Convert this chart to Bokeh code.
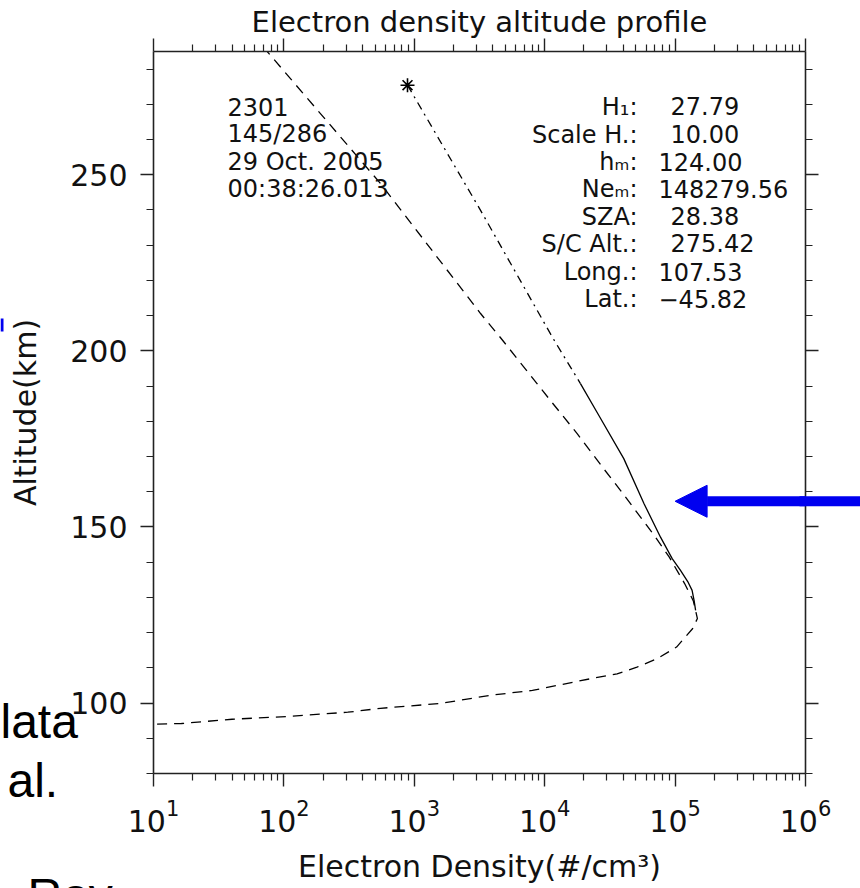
from bokeh.plotting import figure
from bokeh.layouts import column
from bokeh.models import (LogAxis, LinearAxis, FixedTicker, Label, Arrow, NormalHead,
                          Range1d, CustomJSTickFormatter)
from bokeh.embed import file_html
from bokeh.resources import INLINE

# ---------------- data ----------------
# axis ticks
x_major_ticks = [1e1, 1e2, 1e3, 1e4, 1e5, 1e6]
x_minor_ticks = [m * 10 ** d for d in range(1, 6) for m in range(2, 10)]
y_major_ticks = [100, 150, 200, 250]
y_minor_ticks = list(range(80, 290, 10))

# model (Chapman) profile, dashed
model_ne = [57, 119, 551, 3222, 4570, 8730, 11070, 17740, 28380, 38100, 54300,
            70800, 90000, 118000, 138000, 148280, 136000, 102600, 72800, 51000,
            35900, 22400, 8050, 3840, 1585, 550, 309, 107, 40, 16.4, 10]
model_alt = [290, 276.2, 247.5, 210.6, 203.8, 190.7, 185.9, 176.5, 166.5, 160.4, 152.8,
             147.1, 141.5, 134.0, 129.0, 124.0, 121.1, 115.9, 112.6, 110.2,
             108.3, 106.9, 103.6, 102.2, 99.9, 98.5, 97.4, 96.2, 95.4, 94.2, 94.0]

# measured profile, upper part (dash-dot)
meas_upper_ne = [887, 3222, 11480, 18800]
meas_upper_alt = [275.42, 239.9, 203.8, 190.7]
# measured profile, lower part (solid)
meas_lower_ne = [18800, 25700, 40400, 57800, 77300, 95000, 110000, 125000, 135000, 140000, 143600]
meas_lower_alt = [190.7, 182.0, 169.4, 156.6, 147.1, 141.0, 137.7, 134.5, 132.0, 129.0, 126.3]

# spacecraft position (star)
sc_ne = [887]
sc_alt = [275.42]

# arrow target
arrow_ne_tip = 1.0e5
arrow_ne_tail = 2.6e6
arrow_alt = 157.3

info_left = ["2301", "145/286", "29 Oct. 2005", "00:38:26.013"]
param_names = ["H\u2081:", "Scale H.:", "h\u2098:", "Ne\u2098:", "SZA:", "S/C Alt.:", "Long.:", "Lat.:"]
param_values = ["\u200227.79", "\u200210.00", "124.00", "148279.56", "\u200228.38",
                "\u2002275.42", "107.53", "\u221245.82"]

# fragments of the slide behind the chart
slide_texts = ["lata", "al.", "Roy"]

FONT = "DejaVu Sans"
BLUE = "#0000f0"

# ---------------- layout (canvas pixels) ----------------
W, H = 860, 888
FL, FR, FT, FB = 153, 805, 51, 773   # frame edges
X0, X1, Y0, Y1 = 10, 1e6, 80, 285


def sx(cx):
    return cx - FL


def sy(cy):
    return FB - cy


def alt_to_px(a):
    return FB - (a - Y0) / (Y1 - Y0) * (FB - FT)


p = figure(width=W, height=H, x_axis_type="log",
           x_range=Range1d(X0, X1), y_range=Range1d(Y0, Y1),
           output_backend="svg", toolbar_location=None,
           min_border_left=FL, min_border_right=W - FR,
           min_border_top=FT, min_border_bottom=H - FB)
p.frame_align = False
p.grid.visible = False
p.outline_line_color = None
p.background_fill_color = "white"
p.border_fill_color = "white"

p.title.text = "Electron density altitude profile"
p.title.align = "center"
p.title.text_font = FONT
p.title.text_font_size = "29px"
p.title.text_font_style = "normal"
p.title.text_color = "#111111"
p.title.standoff = 0
p.title.offset = 0

blank = CustomJSTickFormatter(code="return ''")


def style_axis(ax):
    ax.axis_line_width = 1.6
    ax.axis_line_color = "#222222"
    ax.major_tick_line_color = "#222222"
    ax.minor_tick_line_color = "#222222"
    ax.major_tick_line_width = 1.4
    ax.minor_tick_line_width = 1.2
    ax.major_tick_in = 0
    ax.major_tick_out = 13
    ax.minor_tick_in = 0
    ax.minor_tick_out = 7
    ax.major_label_text_font = FONT
    ax.major_label_text_font_size = "30px"
    ax.major_label_text_color = "#111111"
    ax.axis_label_text_font = FONT
    ax.axis_label_text_font_size = "30px"
    ax.axis_label_text_font_style = "normal"
    ax.axis_label_text_color = "#111111"


xt = FixedTicker(ticks=x_major_ticks, minor_ticks=x_minor_ticks)
yt = FixedTicker(ticks=y_major_ticks, minor_ticks=y_minor_ticks)

bx = p.xaxis[0]
bx.ticker = xt
bx.axis_label = "Electron Density(#/cm\u00b3)"
style_axis(bx)
bx.major_label_standoff = 12
bx.axis_label_standoff = 14

ly = p.yaxis[0]
ly.ticker = yt
ly.axis_label = "Altitude(km)"
style_axis(ly)
ly.major_label_standoff = 13
ly.axis_label_standoff = 24

tx = LogAxis(ticker=xt, formatter=blank)
style_axis(tx)
tx.major_label_standoff = 0
p.add_layout(tx, "above")
ry = LinearAxis(ticker=yt, formatter=blank)
style_axis(ry)
ry.major_label_standoff = 0
p.add_layout(ry, "right")

# ---------------- curves ----------------
p.line(model_ne, model_alt, line_color="black", line_width=1.3, line_dash="10 7")
p.line(meas_upper_ne, meas_upper_alt, line_color="black", line_width=1.3, line_dash="8 5 2 5")
p.line(meas_lower_ne, meas_lower_alt, line_color="black", line_width=1.3)
p.scatter(sc_ne, sc_alt, marker="asterisk", size=14, line_color="black", line_width=1.6)

# ---------------- texts inside the frame ----------------
for i, t in enumerate(info_left):
    p.add_layout(Label(x=sx(227), y=sy(106.5 + 27.4 * i), x_units="screen", y_units="screen",
                       text=t, text_font=FONT, text_font_size="24px", text_color="#111111",
                       text_baseline="middle", text_align="left"))
for i, (n, v) in enumerate(zip(param_names, param_values)):
    cy = sy(106.7 + 27.4 * i)
    p.add_layout(Label(x=sx(637), y=cy, x_units="screen", y_units="screen",
                       text=n, text_font=FONT, text_font_size="24px", text_color="#111111",
                       text_baseline="middle", text_align="right"))
    p.add_layout(Label(x=sx(658), y=cy, x_units="screen", y_units="screen",
                       text=v, text_font=FONT, text_font_size="24px", text_color="#111111",
                       text_baseline="middle", text_align="left"))

# ---------------- blue arrow ----------------
p.add_layout(Arrow(end=NormalHead(size=32, fill_color=BLUE, line_color=BLUE, line_width=1),
                   x_start=arrow_ne_tail, y_start=arrow_alt, x_end=arrow_ne_tip, y_end=arrow_alt,
                   line_color=BLUE, line_width=10))

# ---------------- overlay: whole-canvas layer for things outside the frame ----------------
q = figure(width=W, height=H, x_range=Range1d(0, W), y_range=Range1d(H, 0),
           output_backend="svg", toolbar_location=None, title=None,
           x_axis_location=None, y_axis_location=None, min_border=0)
q.frame_align = False
q.grid.visible = False
q.outline_line_color = None
q.background_fill_color = None
q.border_fill_color = None
q.styles = {"position": "absolute", "left": "0px", "top": "0px", "pointer-events": "none"}

# arrow shaft continuing past the right axis to the window edge
shaft_y = alt_to_px(arrow_alt)
q.segment(x0=[FR - 6], y0=[shaft_y], x1=[W + 5], y1=[shaft_y], line_color=BLUE, line_width=10)
# a sliver of another blue arrow at the far left
q.quad(left=[0], right=[3], top=[318], bottom=[331], fill_color=BLUE, line_color=None)

SLIDE_FONT = "Liberation Sans"
for t, (lx, ly_) in zip(slide_texts, [(0, 721), (7, 780), (27, 895)]):
    q.add_layout(Label(x=lx, y=ly_, text=t, text_font=SLIDE_FONT, text_font_size="48px",
                       text_color="black", text_align="left", text_baseline="alphabetic"))

layout = column(p, q, width=W, height=H)
open("out.html", "w").write(file_html(layout, INLINE))
